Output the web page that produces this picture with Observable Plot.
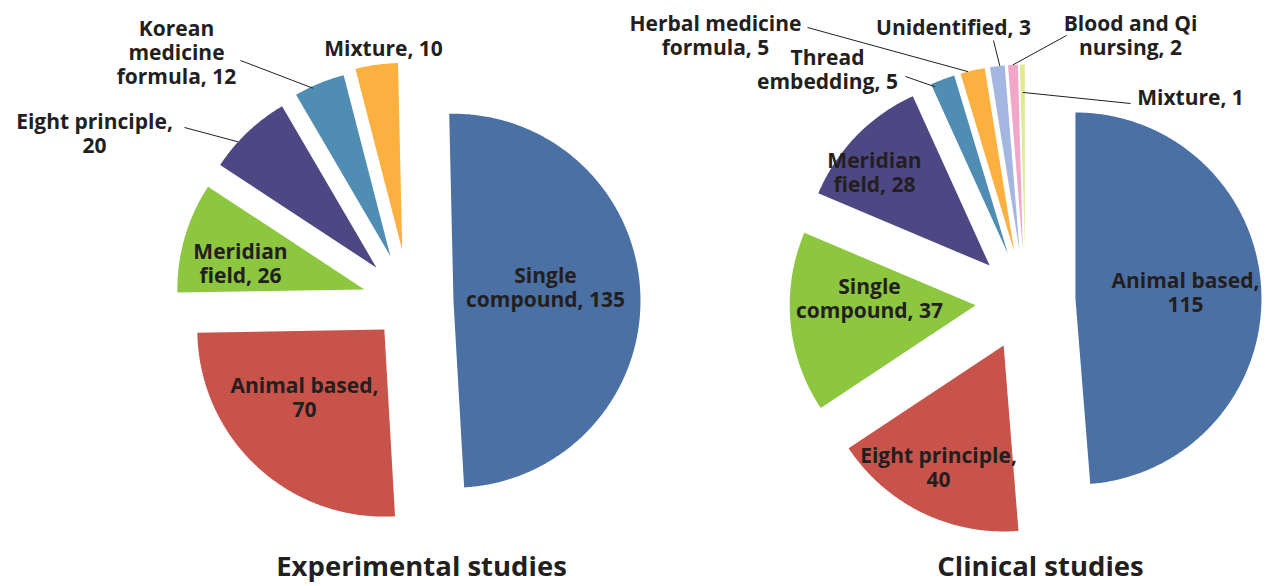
<!DOCTYPE html>
<html>
<head>
<meta charset="utf-8">
<script src="https://cdn.jsdelivr.net/npm/d3@7"></script>
<script src="https://cdn.jsdelivr.net/npm/@observablehq/plot@0.6"></script>
<style>
  html, body { margin: 0; padding: 0; background: #fff; }
  #chart svg { display: block; }
</style>
</head>
<body>
<div id="chart"></div>
<script>
// ---------- DATA ----------
const expCategories = ["Single compound", "Animal based", "Meridian field", "Eight principle", "Korean medicine formula", "Mixture"];
const expValues = [135, 70, 26, 20, 12, 10];
const expColors = ["#4a70a4", "#c8534a", "#8dc63f", "#4d4883", "#4f8db2", "#fbb040"];

const clinCategories = ["Animal based", "Eight principle", "Single compound", "Meridian field", "Thread embedding", "Herbal medicine formula", "Unidentified", "Blood and Qi nursing", "Mixture"];
const clinValues = [115, 40, 37, 28, 5, 5, 3, 2, 1];
const clinColors = ["#4a70a4", "#c8534a", "#8dc63f", "#4d4883", "#4f8db2", "#fbb040", "#a3b7e0", "#f2a7c9", "#e3ea8a"];

const titles = ["Experimental studies", "Clinical studies"];

// ---------- LAYOUT (positions / styles) ----------
const W = 1267, H = 586;
const layout = [
  {
    cx: 409, cy: 302, r: 187, start: -1.3,
    explode: [44, 37, 47, 48, 50, 53],
    title: {x: 421, y: 567},
    labels: [
      {breaks: [1], x: 545, y: 287},
      {breaks: [2], x: 304, y: 397},
      {breaks: [1], x: 240, y: 263},
      {breaks: [2], x: 94, y: 133, leader: {x: 184, y: 127, t: 0.34, rf: 1}},
      {breaks: [1, 2], x: 176, y: 52, leader: {x: 240, y: 60, t: 0.35, rf: 0.99}},
      {breaks: [], x: 383, y: 48}
    ]
  },
  {
    cx: 1025, cy: 300, r: 186, start: 0,
    explode: [50, 50, 50, 50, 50, 50, 50, 50, 50],
    title: {x: 1040, y: 567},
    labels: [
      {breaks: [2], x: 1185, y: 292},
      {breaks: [2], x: 938, y: 467},
      {breaks: [1], x: 869, y: 298},
      {breaks: [1], x: 874, y: 172},
      {breaks: [1], x: 827, y: 69, leader: {x: 905, y: 76, t: 0.1, rf: 0.98}},
      {breaks: [2], x: 715, y: 35, leader: {x: 807, y: 27, t: 0.31, rf: 1}},
      {breaks: [], x: 953, y: 27, leader: {x: 993, y: 40, t: 0.67, rf: 1}},
      {breaks: [3], x: 1130, y: 35, leader: {x: 1066, y: 35, t: 0.5, rf: 1}},
      {breaks: [], x: 1190, y: 97, leader: {x: 1130, y: 103, t: 0.5, rf: 0.85}}
    ]
  }
];

const series = [
  {cats: expCategories, vals: expValues, colors: expColors},
  {cats: clinCategories, vals: clinValues, colors: clinColors}
];

// ---------- GEOMETRY FROM DATA ----------
const rad = (deg) => deg * Math.PI / 180;
const polyPoints = [];
const labelRows = [];
const leaderRows = [];
const titleRows = [];

series.forEach((s, p) => {
  const L = layout[p];
  const total = d3.sum(s.vals);
  let acc = 0;
  s.vals.forEach((v, i) => {
    const a0 = L.start + acc / total * 360;
    acc += v;
    const a1 = L.start + acc / total * 360;
    const mid = (a0 + a1) / 2;
    const d = L.explode[i];
    const vx = L.cx + d * Math.sin(rad(mid));
    const vy = L.cy - d * Math.cos(rad(mid));
    const key = p + "-" + i;
    polyPoints.push({key, color: s.colors[i], x: vx, y: vy});
    const n = Math.max(2, Math.ceil((a1 - a0) / 0.5) + 1);
    for (let k = 0; k < n; k++) {
      const a = a0 + (a1 - a0) * k / (n - 1);
      polyPoints.push({key, color: s.colors[i], x: vx + L.r * Math.sin(rad(a)), y: vy - L.r * Math.cos(rad(a))});
    }
    // label
    const lab = L.labels[i];
    const words = `${s.cats[i]}, ${v}`.split(" ");
    const lines = [];
    let prev = 0;
    for (const b of lab.breaks) { lines.push(words.slice(prev, b).join(" ")); prev = b; }
    lines.push(words.slice(prev).join(" "));
    labelRows.push({x: lab.x, y: lab.y, text: lines.join("\n")});
    if (lab.leader) {
      const a = a0 + (a1 - a0) * lab.leader.t;
      const rr = L.r * lab.leader.rf;
      leaderRows.push({
        x1: lab.leader.x, y1: lab.leader.y,
        x2: vx + rr * Math.sin(rad(a)), y2: vy - rr * Math.cos(rad(a))
      });
    }
  });
  titleRows.push({x: L.title.x, y: L.title.y, text: titles[p]});
});

const font = "'Open Sans', Roboto, sans-serif";
const ink = "#231f20";

const chart = Plot.plot({
  width: W,
  height: H,
  margin: 0,
  x: {domain: [0, W], range: [0, W], axis: null},
  y: {domain: [0, H], range: [0, H], axis: null},
  color: {type: "identity"},
  style: {background: "#fff"},
  marks: [
    Plot.line(polyPoints, {x: "x", y: "y", z: "key", fill: "color", stroke: "none", curve: "linear-closed"}),
    Plot.link(leaderRows, {x1: "x1", y1: "y1", x2: "x2", y2: "y2", stroke: ink, strokeWidth: 1}),
    Plot.text(labelRows, {x: "x", y: "y", text: "text", fontSize: 21, fontWeight: "bold", fontFamily: font, fill: ink, lineHeight: 1.14, textAnchor: "middle"}),
    Plot.text(titleRows, {x: "x", y: "y", text: "text", fontSize: 27.5, fontWeight: "bold", fontFamily: font, fill: ink, textAnchor: "middle"})
  ]
});
document.getElementById("chart").appendChild(chart);
</script>
</body>
</html>
